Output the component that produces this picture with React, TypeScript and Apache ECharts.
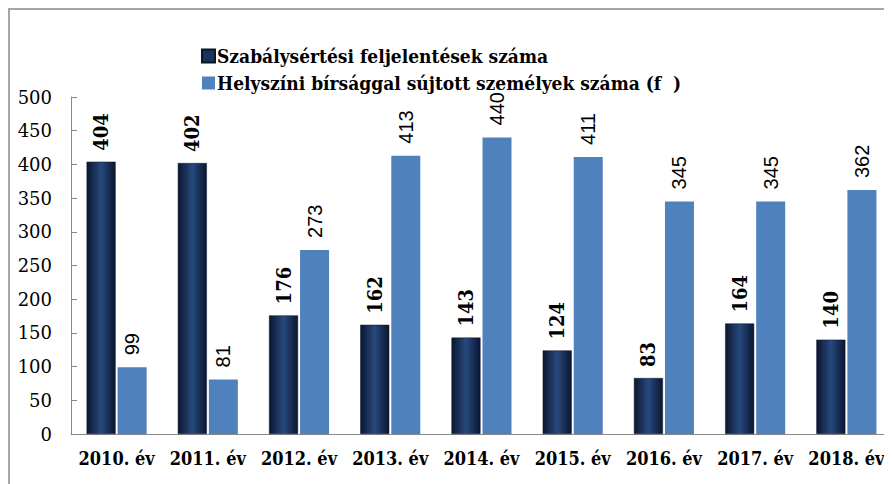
import React, { useEffect, useRef } from "react";
import * as echarts from "echarts";

const categories = ["2010. év", "2011. év", "2012. év", "2013. év", "2014. év", "2015. év", "2016. év", "2017. év", "2018. év"];
const seriesNames = ["Szabálysértési feljelentések száma", "Helyszíni bírsággal sújtott személyek száma (f  )"];
const complaints = [404, 402, 176, 162, 143, 124, 83, 164, 140];
const fined = [99, 81, 273, 413, 440, 411, 345, 345, 362];
const yTicks = { min: 0, max: 500, interval: 50 };

const SERIF = "DejaVu Serif";
const SERIF_C = "DejaVu Serif Condensed";
const SANS = "Liberation Sans";

export default function App() {
  const ref = useRef<HTMLDivElement>(null);
  useEffect(() => {
    document.body.style.overflow = "hidden";
    const chart = echarts.init(ref.current!, null, { renderer: "svg" });
    const darkGrad = new echarts.graphic.LinearGradient(0, 0, 1, 0, [
      { offset: 0, color: "#0a1630" },
      { offset: 0.5, color: "#27497d" },
      { offset: 1, color: "#0a1630" },
    ]);
    chart.setOption({
      animation: false,
      backgroundColor: "#ffffff",
      graphic: [
        { type: "line", shape: { x1: 0, y1: 1, x2: 884, y2: 1 }, style: { stroke: "#a6a6a6", lineWidth: 2 } },
        { type: "line", shape: { x1: 1, y1: 0, x2: 1, y2: 476 }, style: { stroke: "#a6a6a6", lineWidth: 2 } },
      ],
      legend: {
        orient: "vertical",
        left: 188,
        top: 33,
        itemGap: 7,
        itemWidth: 13,
        itemHeight: 13,
        icon: "rect",
        textStyle: { fontFamily: SERIF_C, fontWeight: "bold", fontSize: 19, color: "#000", lineHeight: 20, padding: [0, 0, 0, -3] },
        data: [
          { name: seriesNames[0], itemStyle: { color: "#1a335c" } },
          { name: seriesNames[1], itemStyle: { color: "#4f81bd" } },
        ],
      },
      grid: { left: 63, right: 0, top: 89, bottom: 50, containLabel: false },
      xAxis: {
        type: "category",
        data: categories,
        axisLine: { lineStyle: { color: "#888", width: 1 } },
        axisTick: { show: false },
        axisLabel: { fontFamily: SERIF_C, fontWeight: "bold", fontSize: 18, color: "#000", margin: 15, interval: 0 },
      },
      yAxis: {
        type: "value",
        min: yTicks.min,
        max: yTicks.max,
        interval: yTicks.interval,
        splitLine: { show: false },
        axisLine: { show: true, lineStyle: { color: "#888", width: 1 } },
        axisTick: { show: true, inside: true, length: 6, lineStyle: { color: "#888" } },
        axisLabel: { fontFamily: SERIF, fontSize: 18, color: "#000", margin: 19 },
      },
      series: [
        {
          name: seriesNames[0],
          type: "bar",
          data: complaints,
          barWidth: 29,
          barGap: "7%",
          itemStyle: { color: darkGrad, borderColor: "#0a1526", borderWidth: 0.5 },
          label: {
            show: true,
            position: "top",
            rotate: 90,
            align: "left",
            verticalAlign: "middle",
            distance: 11,
            fontFamily: SERIF_C,
            fontWeight: "bold",
            fontSize: 20,
            color: "#000",
          },
        },
        {
          name: seriesNames[1],
          type: "bar",
          data: fined,
          barWidth: 29,
          barGap: "7%",
          itemStyle: { color: "#4f81bd" },
          label: {
            show: true,
            position: "top",
            rotate: 90,
            align: "left",
            verticalAlign: "middle",
            distance: 12,
            fontFamily: SANS,
            fontSize: 20,
            color: "#000",
          },
        },
      ],
    });
    return () => chart.dispose();
  }, []);
  return <div ref={ref} style={{ width: 884, height: 476 }} />;
}
